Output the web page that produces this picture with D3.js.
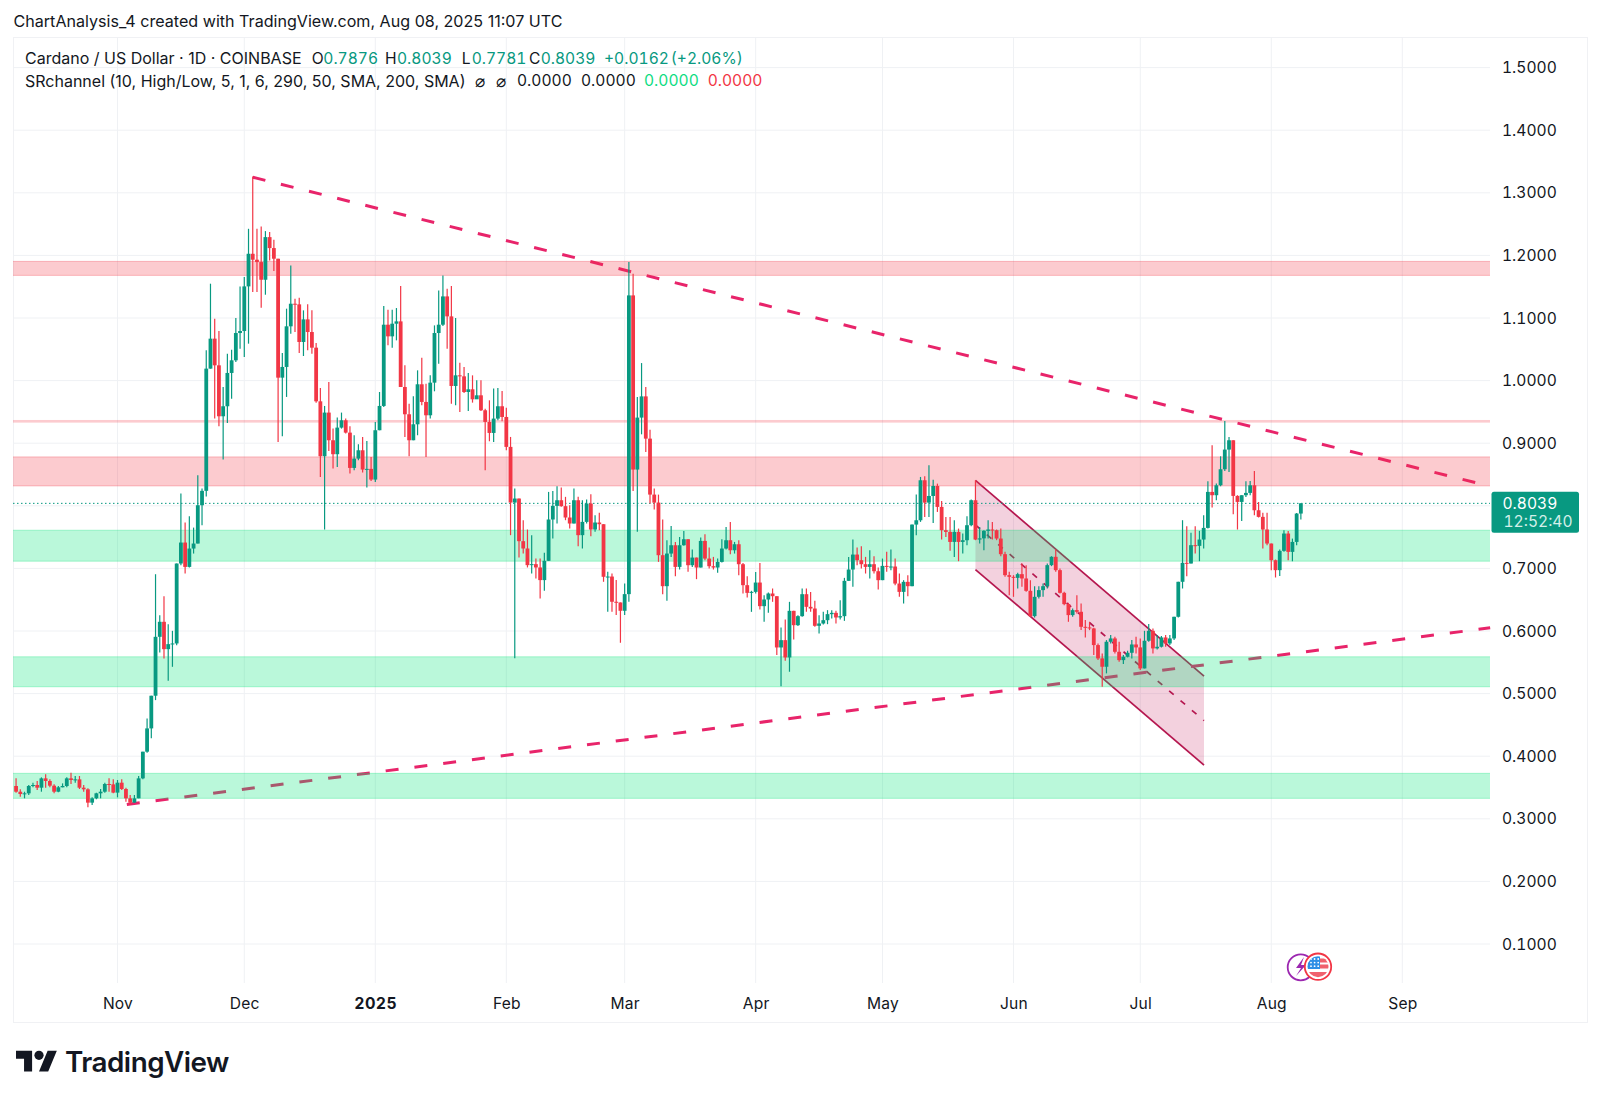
<!DOCTYPE html>
<html><head><meta charset="utf-8">
<script src="https://d3js.org/d3.v7.min.js"></script>
<style>
html,body{margin:0;padding:0;background:#fff}
svg{display:block}
text{font-family:Inter,"Noto Sans",sans-serif;fill:#131722}
</style></head><body>
<svg id="c" width="1600" height="1102"></svg>
<script>
const firstDate = "2024-10-08";
const firstOpen = 0.3524;
const closes = [
.3433,.3396,.3407,.3524,.3540,.3497,.3646,.3604,.3529,.3433,
.3503,.3524,.3646,.3620,.3630,.3497,.3471,.3258,.3327,.3407,
.3433,.3556,.3550,.3418,.3577,.3476,.3327,.3258,.3327,.3646,
.4072,.4444,.4966,.5907,.6147,.5710,.5790,.5801,.7078,.7413,
.7024,.7317,.7397,.8009,.8239,1.0191,1.0670,1.0244,.9430,.9590,
1.0122,1.0324,1.0760,1.0792,1.1505,1.2026,1.1931,1.1893,1.1611,1.2292,
1.2117,1.1947,1.0047,1.0218,1.0867,1.1228,1.1218,1.0617,1.0978,1.0776,
1.0526,.9669,.8792,.9489,.9047,.8824,.9249,.9366,.9169,.8605,
.8754,.8887,.8579,.8590,.8419,.9207,.9595,1.0893,1.0707,1.0909,
1.0946,.9898,.9462,.9047,.9302,.9941,.9659,.9446,.9967,1.0760,
1.0893,1.1345,1.1026,.9914,1.0084,1.0068,.9818,.9861,.9701,.9765,
.9526,.9340,.9164,.9393,.9590,.9419,.8941,.8052,.8116,.7435,
.7318,.7052,.7068,.7015,.6813,.7121,.7781,.7999,.8089,.7994,
.7813,.7717,.8089,.7531,.7743,.8036,.7621,.7733,.7706,.6866,
.6870,.6467,.6456,.6323,.6589,1.1361,.8579,.9409,.9748,.9073,
.8179,.8051,.7211,.6716,.7237,.7370,.7024,.7370,.7466,.7051,
.7173,.7014,.7439,.7157,.7035,.7014,.7104,.7317,.7450,.7290,
.7386,.7067,.6732,.6609,.6625,.6774,.6397,.6503,.6599,.6556,
.5737,.5854,.5577,.6322,.6093,.6237,.6588,.6386,.6359,.6083,
.6120,.6173,.6269,.6290,.6216,.6237,.6801,.6982,.7221,.7131,
.7067,.7024,.7067,.6955,.6812,.7040,.7025,.7030,.6758,.6625,
.6785,.6716,.7700,.7769,.8408,.8051,.8157,.8317,.7982,.7610,
.7583,.7423,.7583,.7423,.7450,.7690,.8089,.7461,.7480,.7600,
.7621,.7610,.7477,.7227,.6892,.6865,.6849,.6908,.6839,.6642,
.6238,.6546,.6653,.6716,.7052,.7185,.6972,.6610,.6429,.6254,
.6333,.6307,.6067,.6057,.6041,.5775,.5562,.5429,.5828,.5881,
.5668,.5535,.5588,.5652,.5785,.5738,.5402,.5844,.6003,.5722,
.5748,.5897,.5801,.5881,.6227,.6786,.7089,.7078,.7371,.7360,
.7461,.7647,.8222,.8169,.8328,.8584,.8898,.9047,.8158,.8062,
.8169,.8206,.8328,.7929,.7823,.7621,.7397,.7131,.6972,.7280,
.7557,.7264,.7423,.7876,.8039];
const highs = [
.3646,.3471,.3433,.3540,.3577,.3604,.3662,.3710,.3630,.3550,
.3524,.3566,.3662,.3737,.3684,.3684,.3540,.3487,.3343,.3417,
.3476,.3577,.3646,.3630,.3620,.3630,.3497,.3380,.3380,.3684,
.4072,.4604,.4966,.6907,.6253,.6556,.6109,.6003,.7078,.8195,
.7732,.7833,.7652,.8490,.8276,1.0484,1.1548,1.0989,1.0792,.9898,
1.0430,1.0494,1.0999,1.1505,1.1654,1.2425,1.3261,1.2425,1.2463,1.2388,
1.2372,1.2250,1.1947,1.0441,1.1149,1.1840,1.1308,1.1324,1.1122,1.1218,
1.1122,1.0600,.9882,.9595,.9978,.9233,.9409,.9489,.9393,.9270,
.9127,.8983,.9100,.9036,.8781,.9340,.9818,1.1191,1.1132,1.1132,
1.1159,1.1510,1.0244,.9632,.9749,1.0164,1.0366,.9951,1.0084,1.0882,
1.1441,1.1680,1.1468,1.1510,1.0999,1.0287,1.0217,1.0122,1.0084,1.0005,
1.0005,.9552,.9685,.9872,.9882,.9834,.9568,.9100,.8276,.8116,
.7770,.7621,.7531,.7158,.7158,.7249,.8222,.8238,.8313,.8292,
.8143,.8010,.8276,.8143,.8089,.8100,.8185,.7850,.7887,.7706,
.6946,.6919,.6813,.6456,.6759,1.1893,1.1707,.9739,1.0280,.9897,
.9216,.8275,.8179,.7780,.7450,.7679,.7423,.7503,.7599,.7466,
.7301,.7173,.7493,.7546,.7333,.7184,.7157,.7466,.7663,.7743,
.7423,.7450,.7088,.6875,.6642,.6944,.7088,.6572,.6615,.6679,
.6556,.6056,.6184,.6466,.6322,.6253,.6679,.6679,.6625,.6482,
.6253,.6306,.6333,.6333,.6322,.6493,.6849,.7184,.7461,.7333,
.7354,.7184,.7290,.7195,.7014,.7157,.7264,.7301,.7157,.6918,
.6812,.6891,.7700,.8179,.8461,.8471,.8647,.8418,.8354,.8078,
.7822,.7822,.7769,.7636,.7556,.7833,.8100,.8408,.7663,.7610,
.7770,.7743,.7621,.7637,.7264,.6945,.6892,.6929,.7078,.7052,
.6812,.6716,.6716,.6759,.7078,.7195,.7307,.7000,.6626,.6450,
.6360,.6573,.6440,.6174,.6147,.6051,.5801,.5642,.5855,.5935,
.5908,.5828,.5615,.5685,.5855,.5908,.5881,.6003,.6110,.6041,
.5935,.5919,.5935,.5935,.6227,.6786,.7770,.7674,.7568,.7674,
.7600,.7850,.8392,.8967,.8355,.8791,.9355,.9100,.9047,.8169,
.8169,.8392,.8398,.8557,.8062,.7887,.7887,.7397,.7142,.7302,
.7609,.7598,.7476,.7886,.8039];
const lows = [
.3417,.3354,.3327,.3380,.3503,.3460,.3433,.3497,.3503,.3407,
.3423,.3503,.3503,.3556,.3577,.3476,.3433,.3183,.3221,.3311,
.3327,.3417,.3433,.3407,.3343,.3460,.3274,.3221,.3258,.3327,
.3630,.4056,.4285,.4896,.5657,.5561,.5205,.5428,.5774,.7051,
.6918,.7014,.7237,.7397,.7690,.8150,1.0191,.9393,.9271,.8739,
.9324,.9712,1.0297,1.0510,1.0377,1.0590,1.1415,1.1415,1.1165,1.1372,
1.1920,1.1750,.9020,.9111,.9739,1.0750,1.0776,1.0441,1.0393,1.0484,
1.0430,.9648,.8462,.7621,.8877,.8595,.8621,.9233,.9153,.8515,
.8568,.8728,.8531,.8292,.8398,.8382,.9207,.9579,1.0563,1.0526,
1.0643,.9898,.9100,.8792,.9047,.9127,.9606,.8781,.9393,.9829,
1.0271,1.0872,1.0510,.9632,.9606,.9499,.9802,.9515,.9648,.9712,
.9515,.8568,.9031,.9020,.9366,.9350,.8887,.7531,.5566,.7174,
.7238,.7015,.6919,.6839,.6520,.6642,.7121,.7478,.7717,.7983,
.7770,.7637,.7717,.7355,.7318,.7717,.7515,.7584,.7611,.6786,
.6307,.6307,.6254,.5812,.6254,.6467,.8238,.7584,.9142,.8860,
.8035,.7939,.7104,.6588,.6482,.7184,.6875,.6982,.7360,.6945,
.7024,.6828,.7014,.7131,.6998,.6982,.6929,.7094,.7301,.7227,
.7237,.6891,.6599,.6535,.6306,.6599,.6343,.6146,.6290,.6466,
.5615,.5119,.5524,.5349,.5865,.6078,.6226,.6306,.6306,.6067,
.5960,.6104,.6109,.6200,.6120,.6184,.6162,.6801,.6705,.7051,
.6998,.6918,.6838,.6918,.6663,.6812,.6945,.6971,.6732,.6546,
.6439,.6556,.6716,.7530,.7743,.7822,.7822,.7727,.7902,.7461,
.7503,.7280,.7184,.7115,.7237,.7370,.7674,.7451,.7397,.7291,
.7477,.7461,.7451,.7195,.6865,.6573,.6546,.6679,.6706,.6626,
.6227,.6216,.6520,.6546,.6679,.7036,.6945,.6600,.6413,.6147,
.6227,.6280,.6014,.5897,.6014,.5615,.5535,.5110,.5323,.5801,
.5642,.5509,.5472,.5578,.5562,.5642,.5376,.5402,.5828,.5642,
.5706,.5738,.5748,.5775,.5855,.6216,.6679,.6876,.7078,.7238,
.7115,.7318,.7637,.7972,.8089,.8312,.8557,.8541,.7866,.7621,
.7759,.8142,.8169,.7850,.7812,.7318,.7371,.6972,.6855,.6880,
.7264,.7130,.7114,.7370,.7781];

const redBands = [[1.1681,1.1904],[0.9329,0.9371],[0.8318,0.8781]];
const greenBands = [[0.7115,0.7610],[0.5109,0.5588],[0.3327,0.3726]];
const lastPrice = 0.8039;
const trendDown = [["2024-12-03",1.3249],["2025-09-21T19:00",0.8312]];
const trendUp = [["2024-11-03T05:00",0.3230],["2025-09-21T19:00",0.6051]];
const channelTop = [["2025-05-23",0.8407],["2025-07-16T02:00",0.5278]];
const channelBottom = [["2025-05-23",0.6982],["2025-07-16T02:00",0.3858]];
const priceTicks = [0.1,0.2,0.3,0.4,0.5,0.6,0.7,0.8,0.9,1.0,1.1,1.2,1.3,1.4,1.5];
const monthTicks = ["2024-11-01","2024-12-01","2025-01-01","2025-02-01","2025-03-01","2025-04-01","2025-05-01","2025-06-01","2025-07-01","2025-08-01","2025-09-01"];
const monthLabels = ["Nov","Dec","2025","Feb","Mar","Apr","May","Jun","Jul","Aug","Sep"];

const UP="#089981", DOWN="#f23645", INK="#131722";
const parse = s => new Date(s + (s.length>10 ? ":00Z" : "T00:00:00Z"));
const L=13, R=1490, T=37, B=983, FR=1587, FB=1022;
const x = d3.scaleUtc().domain([parse("2024-11-01"),parse("2025-09-01")]).range([117.5,1402.3]);
const y = d3.scaleLinear().domain([0.1,1.5]).range([944,67.6]);
const svg = d3.select("#c");
const pt = d => [x(parse(d[0])), y(d[1])];

// frame and grid
svg.append("rect").attr("x",L+.5).attr("y",T+.5).attr("width",FR-L).attr("height",FB-T).attr("fill","#fff").attr("stroke","#f0f1f4");
const grid = svg.append("g").attr("stroke","#eff1f4").attr("stroke-width",1);
grid.selectAll(".h").data(priceTicks).join("line").attr("x1",L).attr("x2",R).attr("y1",d=>y(d)).attr("y2",d=>y(d));
grid.selectAll(".v").data(monthTicks).join("line").attr("x1",d=>x(parse(d))).attr("x2",d=>x(parse(d))).attr("y1",T).attr("y2",B);

// channel
const chPoly = [pt(channelTop[0]),pt(channelTop[1]),pt(channelBottom[1]),pt(channelBottom[0])];
svg.append("polygon").attr("points",chPoly.join(" ")).attr("fill","#c2185b").attr("fill-opacity",.2);
const line = d3.line();
[channelTop,channelBottom].forEach(c=>svg.append("path").attr("d",line(c.map(pt))).attr("fill","none").attr("stroke","#b5174f").attr("stroke-width",1.7));
const channelMid = [0,1].map(i=>[channelTop[i][0],(channelTop[i][1]+channelBottom[i][1])/2]);
svg.append("path").attr("d",line(channelMid.map(pt))).attr("fill","none").attr("stroke","#b5174f").attr("stroke-width",1.7).attr("stroke-dasharray","6 9");

// trend lines
[trendDown,trendUp].forEach(c=>svg.append("path").attr("d",line(c.map(pt))).attr("fill","none").attr("stroke","#e8246a").attr("stroke-width",3).attr("stroke-dasharray","13 16"));

// support / resistance bands
const band=(data,fill,stroke,op)=>{
  const g=svg.append("g");
  g.selectAll("rect").data(data).join("rect").attr("x",L).attr("width",R-L)
    .attr("y",d=>y(d[1])).attr("height",d=>y(d[0])-y(d[1])).attr("fill",fill).attr("fill-opacity",op);
  g.selectAll("path").data(data.filter(d=>d[1]-d[0]>0.01)).join("path")
    .attr("d",d=>`M${L},${y(d[1])}H${R}M${L},${y(d[0])}H${R}`).attr("stroke",stroke).attr("stroke-opacity",.3).attr("fill","none");
};
band(redBands,"#f23645","#f23645",.26);
band(greenBands,"#00e676","#00e676",.27);

// last price line
svg.append("line").attr("x1",L).attr("x2",R).attr("y1",y(lastPrice)).attr("y2",y(lastPrice))
  .attr("stroke",UP).attr("stroke-width",1).attr("stroke-dasharray","1.5 2.5");

// candles
const candles = closes.map((c,i)=>({date:d3.utcDay.offset(parse(firstDate),i),o:i?closes[i-1]:firstOpen,c,h:highs[i],l:lows[i]}));
const cg = svg.append("g");
const col = d=>d.c>=d.o?UP:DOWN;
cg.selectAll(".w").data(candles).join("line").attr("class","w")
  .attr("x1",d=>x(d.date)).attr("x2",d=>x(d.date)).attr("y1",d=>y(d.h)).attr("y2",d=>y(d.l))
  .attr("stroke",col).attr("stroke-width",1.2);
cg.selectAll(".b").data(candles).join("rect").attr("class","b")
  .attr("x",d=>x(d.date)-1.9).attr("width",3.8)
  .attr("y",d=>y(Math.max(d.o,d.c))).attr("height",d=>Math.max(1,Math.abs(y(d.o)-y(d.c))))
  .attr("fill",col);

// axes
const yAxis = d3.axisRight(y).tickValues(priceTicks).tickSize(0).tickPadding(12).tickFormat(d=>d.toFixed(4));
const gy = svg.append("g").attr("transform",`translate(${R},0)`).call(yAxis);
const xAxis = d3.axisBottom(x).tickValues(monthTicks.map(parse)).tickSize(0).tickPadding(0).tickFormat((d,i)=>monthLabels[i]);
const gx = svg.append("g").attr("transform","translate(0,998)").call(xAxis);
[gy,gx].forEach(g=>{g.select(".domain").remove();g.selectAll("text").attr("font-size",15.6).style("font-family","Inter,sans-serif").style("fill",INK).attr("fill",INK);});
gy.selectAll("text").style("font-variant-numeric","tabular-nums");
gx.selectAll("text").attr("letter-spacing",.2);
gx.selectAll("text").filter((d,i)=>monthLabels[i]==="2025").attr("font-weight",700).attr("letter-spacing",.6);

// price tag
const tagText=(x0,y0,s,c)=>svg.append("text").attr("x",x0).attr("y",y0).attr("dominant-baseline","central").attr("font-size",15.6).style("font-variant-numeric","tabular-nums").style("fill",c).text(s);
svg.append("rect").attr("x",1491.5).attr("y",491.7).attr("width",87.5).attr("height",41).attr("rx",2.5).attr("fill",UP);
tagText(1502.5,503,lastPrice.toFixed(4),"#fff");
tagText(1503.5,521.8,"12:52:40","#d2efe9");

// header text
const T1=(x0,y0,s,c,fs)=>{const t=svg.append("text").attr("x",x0).attr("y",y0).attr("dominant-baseline","central").attr("font-size",fs||16).style("fill",c||INK).text(s);return t;};
T1(13.5,21,"ChartAnalysis_4 created with TradingView.com, Aug 08, 2025 11:07 UTC",INK,16.1);
T1(25,58,"Cardano / US Dollar · 1D · COINBASE");
const num=t=>t.style("font-variant-numeric","tabular-nums");
[[311.7,"O",INK],[323.3,"0.7876",UP],[385,"H",INK],[397,"0.8039",UP],[461.7,"L",INK],[471.7,"0.7781",UP],[529,"C",INK],[540.7,"0.8039",UP],[604,"+0.0162",UP],[670.7,"(+2.06%)",UP]].forEach(a=>num(T1(a[0],58,a[1],a[2],15.6)));
T1(25,80.5,"SRchannel (10, High/Low, 5, 1, 6, 290, 50, SMA, 200, SMA)");
[[475,"⌀",INK,17],[496,"⌀",INK,17],[517,"0.0000",INK],[581,"0.0000",INK],[644,"0.0000","#0fdc82"],[707.7,"0.0000",DOWN]].forEach(a=>num(T1(a[0],80.5,a[1],a[2],a[3]||15.6)));

// event icons
const ic = svg.append("g");
ic.append("circle").attr("cx",1300.7).attr("cy",967.3).attr("r",13).attr("fill","#fff").attr("stroke","#9c27b0").attr("stroke-width",1.8);
ic.append("path").attr("d","M1304,957 L1296,968 L1301,968 L1296,976 L1306,965 L1301,965 Z").attr("fill","#9c27b0");
svg.append("defs").append("clipPath").attr("id","flag").append("circle").attr("cx",1318).attr("cy",966.7).attr("r",10.5);
ic.append("circle").attr("cx",1318).attr("cy",966.7).attr("r",13.2).attr("fill","#fff").attr("stroke","#f23645").attr("stroke-width",1.8);
const fl = ic.append("g").attr("clip-path","url(#flag)");
fl.append("rect").attr("x",1307).attr("y",956).attr("width",22).attr("height",22).attr("fill","#fff");
[958.5,964.5,972].forEach((yy,i)=>fl.append("rect").attr("x",i<2?1320:1307).attr("y",yy).attr("width",22).attr("height",i==2?6:4).attr("fill","#f0616d"));
fl.append("rect").attr("x",1307).attr("y",956).attr("width",13).attr("height",13).attr("fill","#2f8fe6");
for(let a=0;a<3;a++)for(let b=0;b<3;b++)fl.append("circle").attr("cx",1311+a*3.6).attr("cy",959+b*3.6).attr("r",.9).attr("fill","#fff");

// logo
const logo = svg.append("g").attr("transform","translate(16,1046.1) scale(1.15)").attr("fill",INK);
logo.append("path").attr("d","M14 22H7V11H0V4h14v18zM28 22h-8l7.5-18h8L28 22z");
logo.append("circle").attr("cx",20).attr("cy",8).attr("r",4);
svg.append("text").attr("x",65).attr("y",1062).attr("dominant-baseline","central").attr("font-size",27.8).attr("font-weight",600).attr("letter-spacing",-.5).style("fill",INK).text("TradingView");
</script>
</body></html>
